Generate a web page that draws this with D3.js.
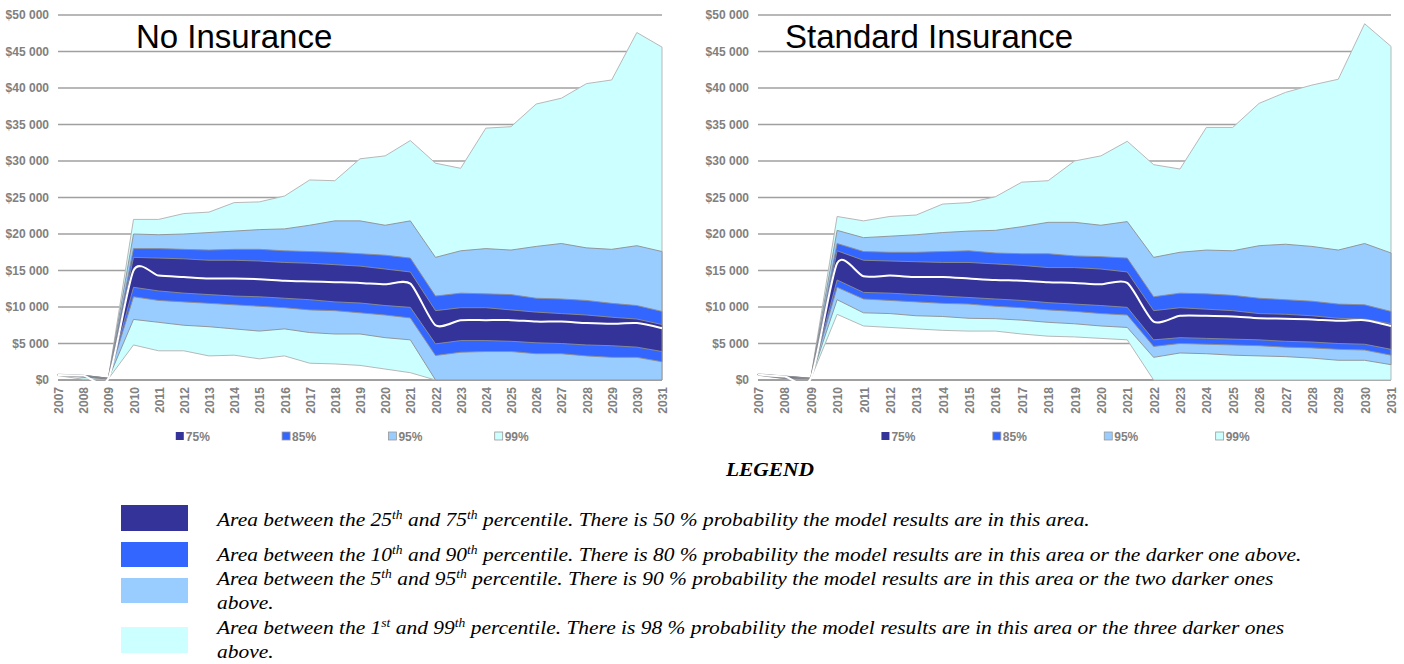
<!DOCTYPE html>
<html>
<head>
<meta charset="utf-8">
<script src="https://cdn.jsdelivr.net/npm/d3@7"></script>
<style>
  body { margin: 0; background: #fff; }
  svg { display: block; }
</style>
</head>
<body>
<div id="chart"></div>
<script>
// years on the x axis
const years = d3.range(2007, 2032);
const yTicks = d3.range(0, 50001, 5000);

// No Insurance percentiles
const noP99 = [800, 650, 250, 22000, 22000, 22800, 23000, 24300, 24400, 25200, 27400, 27300, 30300, 30700, 32800, 29700, 29000, 34500, 34700, 37800, 38600, 40600, 41100, 47600, 45600];
const noP95 = [760, 640, 240, 20000, 19900, 20000, 20200, 20400, 20600, 20700, 21200, 21800, 21800, 21200, 21800, 16800, 17700, 18000, 17800, 18300, 18700, 18100, 17900, 18400, 17600];
const noP90 = [740, 630, 230, 18000, 18000, 17900, 17800, 17900, 17900, 17700, 17600, 17500, 17300, 17100, 16700, 11500, 11900, 11800, 11700, 11200, 11100, 10900, 10500, 10200, 9400];
const noP75 = [720, 620, 220, 16800, 16700, 16600, 16400, 16400, 16300, 16100, 16000, 15800, 15600, 15200, 14800, 9500, 9900, 9900, 9600, 9300, 9100, 8900, 8600, 8350, 7600];
const noP50 = [700, 600, 200, 15000, 14300, 14100, 13900, 13900, 13800, 13600, 13500, 13400, 13300, 13100, 13200, 7500, 8200, 8200, 8200, 8000, 8000, 7800, 7700, 7800, 7100];
const noP25 = [680, 450, 180, 12700, 12200, 11900, 11700, 11500, 11400, 11200, 11000, 10700, 10550, 10200, 9950, 4950, 5400, 5400, 5300, 5100, 5000, 4800, 4700, 4500, 3900];
const noP10 = [660, 420, 170, 11400, 10900, 10700, 10500, 10300, 10100, 9900, 9600, 9500, 9200, 8900, 8500, 3350, 3800, 3900, 3900, 3600, 3600, 3300, 3100, 3100, 2500];
const noP5 = [640, 400, 160, 8300, 7900, 7500, 7300, 7000, 6700, 7000, 6500, 6300, 6300, 5800, 5500, 0, 0, 0, 0, 0, 0, 0, 0, 0, 0];
const noP1 = [600, 100, 150, 4800, 4000, 4000, 3300, 3400, 2900, 3300, 2300, 2200, 2000, 1500, 1000, 0, 0, 0, 0, 0, 0, 0, 0, 0, 0];

// Standard Insurance percentiles
const stP99 = [850, 550, 250, 22400, 21800, 22400, 22600, 24100, 24300, 25100, 27100, 27300, 30000, 30700, 32700, 29500, 28900, 34600, 34600, 37900, 39400, 40400, 41200, 48800, 45700];
const stP95 = [800, 530, 240, 20500, 19500, 19700, 19900, 20200, 20400, 20500, 21000, 21600, 21600, 21200, 21700, 16800, 17500, 17800, 17700, 18400, 18600, 18300, 17800, 18700, 17400];
const stP90 = [780, 510, 230, 18700, 17600, 17500, 17500, 17600, 17700, 17400, 17300, 17300, 17000, 16900, 16700, 11400, 11900, 11800, 11600, 11200, 11000, 10800, 10400, 10300, 9400];
const stP75 = [760, 490, 220, 17700, 16400, 16300, 16200, 16100, 16100, 15900, 15700, 15400, 15400, 15200, 14800, 9500, 9900, 9700, 9500, 9100, 9000, 8800, 8450, 8350, 7700];
const stP50 = [740, 470, 200, 16000, 14200, 14300, 14100, 14100, 13900, 13700, 13600, 13400, 13300, 13100, 13300, 8000, 8800, 8800, 8700, 8450, 8400, 8300, 8100, 8200, 7400];
const stP25 = [720, 300, 180, 13700, 12000, 11900, 11700, 11500, 11300, 11100, 10900, 10600, 10400, 10200, 9950, 5500, 5800, 5700, 5600, 5500, 5300, 5200, 5000, 4900, 4200];
const stP10 = [700, 250, 170, 12700, 11100, 10900, 10700, 10500, 10400, 10100, 9900, 9600, 9400, 9100, 8900, 4600, 5000, 4900, 4800, 4700, 4500, 4400, 4200, 4100, 3400];
const stP5 = [680, 200, 160, 11000, 9200, 9100, 8800, 8700, 8450, 8400, 8200, 7900, 7700, 7400, 7200, 3100, 3700, 3600, 3400, 3300, 3200, 3000, 2700, 2700, 2100];
const stP1 = [650, 180, 150, 9000, 7400, 7200, 7000, 6800, 6700, 6700, 6300, 6000, 5900, 5700, 5500, 0, 0, 0, 0, 0, 0, 0, 0, 0, 0];

const bandNames = ['99%', '95%', '85%', '75%'];
const bandColors = ['#ccffff', '#99ccff', '#3366ff', '#333399'];

const svg = d3.select('#chart').append('svg')
  .attr('width', 1404)
  .attr('height', 664);

const charts = [
  {
    title: 'No Insurance', left: 58, right: 662, titleX: 136,
    bands: [[noP1, noP99], [noP5, noP95], [noP10, noP90], [noP25, noP75]], median: noP50,
  },
  {
    title: 'Standard Insurance', left: 758, right: 1391, titleX: 785,
    bands: [[stP1, stP99], [stP5, stP95], [stP10, stP90], [stP25, stP75]], median: stP50,
  },
];

const plotTop = 15;
const plotBottom = 380;
const sans = 'Liberation Sans, Arial, sans-serif';

charts.forEach((c) => {
  const g = svg.append('g');
  const x = d3.scalePoint().domain(years).range([c.left, c.right]);
  const y = d3.scaleLinear().domain([0, 50000]).range([plotBottom, plotTop]);

  // grid lines
  g.append('g').selectAll('line')
    .data(yTicks)
    .join('line')
    .attr('x1', c.left)
    .attr('x2', c.right)
    .attr('y1', (d) => y(d))
    .attr('y2', (d) => y(d))
    .attr('stroke', '#a0a0a0')
    .attr('stroke-width', (d) => (d === 0 ? 2 : 1.4));

  // y axis labels
  const yAxis = d3.axisLeft(y).tickValues(yTicks).tickSize(0).tickPadding(9)
    .tickFormat((d) => `$${d3.format(',')(d).replace(/,/g, ' ')}`);
  g.append('g')
    .attr('transform', `translate(${c.left},0)`)
    .call(yAxis)
    .call((a) => a.select('.domain').remove())
    .selectAll('text')
    .attr('fill', '#808080')
    .attr('font-family', sans)
    .attr('font-weight', 'bold')
    .attr('font-size', '12px');

  // x axis labels, rotated
  const xAxis = d3.axisBottom(x).tickSize(0).tickPadding(0);
  g.append('g')
    .attr('transform', `translate(0,${plotBottom})`)
    .call(xAxis)
    .call((a) => a.select('.domain').remove())
    .selectAll('text')
    .attr('fill', '#808080')
    .attr('font-family', sans)
    .attr('font-weight', 'bold')
    .attr('font-size', '12px')
    .attr('text-anchor', 'end')
    .attr('dy', null)
    .attr('y', 0)
    .attr('transform', 'translate(4.5,7) rotate(-90)');

  // percentile bands, widest first
  c.bands.forEach(([lo, hi], i) => {
    const area = d3.area()
      .x((d, k) => x(years[k]))
      .y0((d, k) => y(lo[k]))
      .y1((d, k) => y(hi[k]));
    g.append('path')
      .datum(hi)
      .attr('d', area)
      .attr('fill', bandColors[i])
      .attr('stroke', i === 0 ? '#b8b8b8' : '#8f8f8f')
      .attr('stroke-width', i === 0 ? 1 : 0.9);
  });

  // median line (smoothed like the spreadsheet)
  const line = d3.line()
    .x((d, k) => x(years[k]))
    .y((d) => y(d))
    .curve(d3.curveCardinal.tension(0.3));
  g.append('path')
    .datum(c.median)
    .attr('d', line)
    .attr('fill', 'none')
    .attr('stroke', '#ffffff')
    .attr('stroke-width', 2);

  // title
  g.append('text')
    .attr('x', c.titleX)
    .attr('y', 48)
    .attr('font-family', sans)
    .attr('font-size', '33px')
    .attr('fill', '#000')
    .text(c.title);

  // small legend
  const w = c.right - c.left;
  const legendOrder = [3, 2, 1, 0];
  const lg = g.append('g').selectAll('g')
    .data(legendOrder)
    .join('g')
    .attr('transform', (d, i) => `translate(${c.left + w * (0.195 + i * 0.176)},432)`);
  lg.append('rect')
    .attr('width', 8)
    .attr('height', 8)
    .attr('fill', (d) => bandColors[d])
    .attr('stroke', (d) => (d === 3 ? 'none' : '#999'))
    .attr('stroke-width', 0.8);
  lg.append('text')
    .attr('x', 10)
    .attr('y', 8.5)
    .attr('fill', '#808080')
    .attr('font-family', sans)
    .attr('font-weight', 'bold')
    .attr('font-size', '12px')
    .text((d) => bandNames[d]);
});

// LEGEND block, the serif text is a bit stretched in the original
const serif = 'Liberation Serif, Times New Roman, serif';
const stretch = 1.13;
svg.append('text')
  .attr('transform', `translate(770,476) scale(${stretch},1)`)
  .attr('text-anchor', 'middle')
  .attr('font-family', serif)
  .attr('font-style', 'italic')
  .attr('font-weight', 'bold')
  .attr('font-size', '19px')
  .text('LEGEND');

const legendRows = [
  { color: '#333399', top: 505, h: 26, lines: [[['Area between the 25', ''], ['th', 's'], [' and 75', ''], ['th', 's'], [' percentile. There is 50 % probability the model results are in this area.', '']]], base: [526] },
  { color: '#3366ff', top: 542, h: 25, lines: [[['Area between the 10', ''], ['th', 's'], [' and 90', ''], ['th', 's'], [' percentile. There is 80 % probability the model results are in this area or the darker one above.', '']]], base: [561] },
  { color: '#99ccff', top: 578, h: 25, lines: [[['Area between the 5', ''], ['th', 's'], [' and 95', ''], ['th', 's'], [' percentile. There is 90 % probability the model results are in this area or the two darker ones', '']], [['above.', '']]], base: [585, 609] },
  { color: '#ccffff', top: 627, h: 26, lines: [[['Area between the 1', ''], ['st', 's'], [' and 99', ''], ['th', 's'], [' percentile. There is 98 % probability the model results are in this area or the three darker ones', '']], [['above.', '']]], base: [634, 658] },
];

legendRows.forEach((r) => {
  svg.append('rect')
    .attr('x', 121)
    .attr('y', r.top)
    .attr('width', 67)
    .attr('height', r.h)
    .attr('fill', r.color);
  r.lines.forEach((parts, li) => {
    const t = svg.append('text')
      .attr('transform', `translate(217,${r.base[li]}) scale(${stretch},1)`)
      .attr('font-family', serif)
      .attr('font-style', 'italic')
      .attr('font-size', '19px')
      .attr('fill', '#000');
    let raised = false;
    parts.forEach(([s, kind]) => {
      const ts = t.append('tspan').text(s);
      if (kind === 's') {
        ts.attr('font-size', '12px').attr('dy', -7);
        raised = true;
      } else if (raised) {
        ts.attr('dy', 7);
        raised = false;
      }
    });
  });
});
</script>
</body>
</html>
